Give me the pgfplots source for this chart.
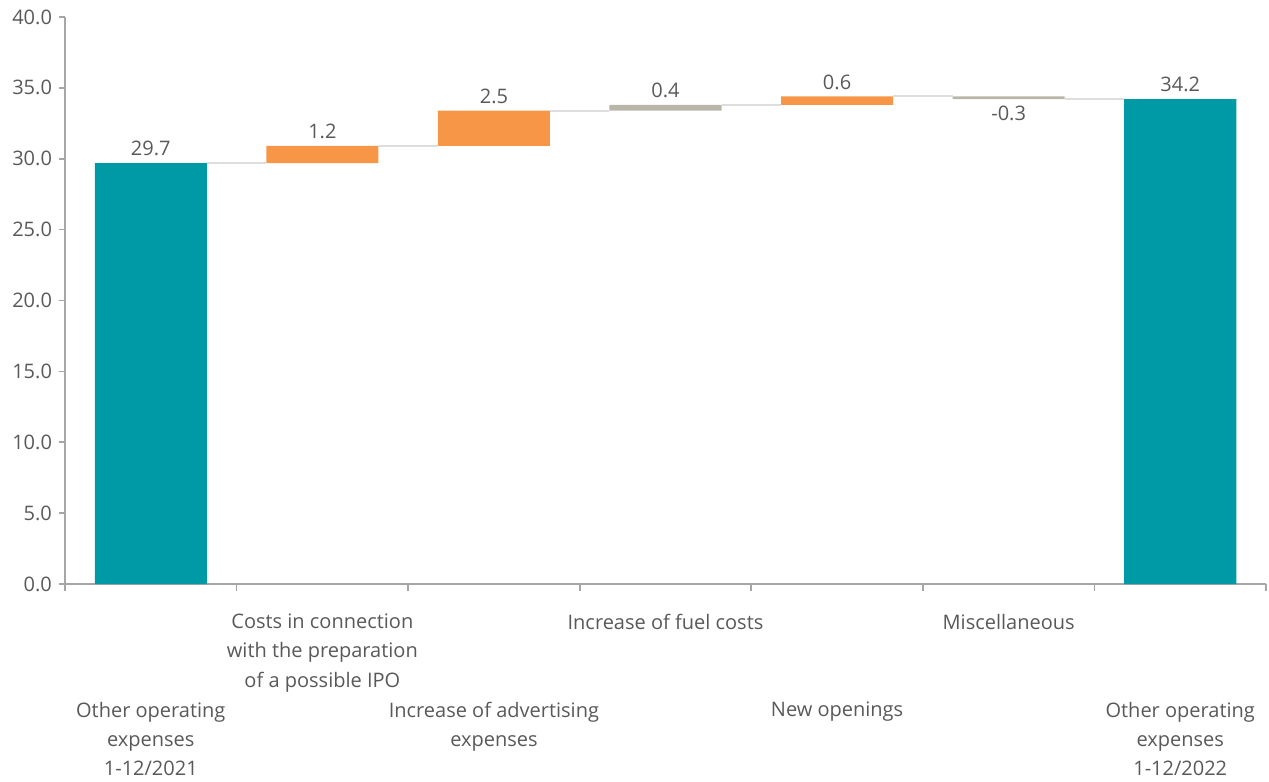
\documentclass[border=0pt]{standalone}
\usepackage{fontspec}
\setmainfont{Open Sans}
\usepackage{pgfplots}
\pgfplotsset{compat=1.18}
\definecolor{cTeal}{HTML}{0099A6}
\definecolor{cOrange}{HTML}{F79646}
\definecolor{cGray}{HTML}{B8B6A9}
\definecolor{cConn}{HTML}{DDDDDD}
\definecolor{cAxis}{HTML}{A6A6A6}
\definecolor{cText}{HTML}{595959}
\begin{document}
\begin{tikzpicture}
\pgfplotsset{
  common/.style={
    scale only axis, width=600.5pt, height=283.5pt,
    xmin=-0.5, xmax=6.5, ymin=0, ymax=40,
    clip=false,
  }
}
\begin{axis}[
  common, name=ax,
  ybar stacked, bar width=0.653,
  axis x line*=bottom, axis y line*=left,
  axis line style={cAxis, line width=0.9pt},
  ytick={0,5,...,40},
  yticklabel style={/pgf/number format/.cd, fixed, fixed zerofill, precision=1, assume math mode=true},
  tick align=outside, major tick length=3pt,
  tick style={cAxis, line width=0.8pt},
  major x tick style={draw=none},
  minor xtick={-0.5,0.5,...,6.5}, minor tick length=3.5pt,
  minor x tick style={cAxis, line width=0.8pt},
  xtick={1,3,5},
  xticklabels={{Costs in connection\\with the preparation\\of a possible IPO},{Increase of fuel costs},{Miscellaneous}},
  extra x ticks={0,2,4,6},
  extra x tick labels={{Other operating\\expenses\\1-12/2021},{Increase of advertising\\expenses},{New openings},{Other operating\\expenses\\1-12/2022}},
  extra x tick style={xticklabel style={yshift=-44pt}},
  ticklabel style={font=\fontsize{10}{14.6}\selectfont, text=cText},
  xticklabel style={align=center, yshift=-8.5pt},
]
\addplot[draw=none, fill=none] coordinates {(0,0) (1,29.7) (2,30.9) (3,33.4) (4,33.8) (5,34.2) (6,0)};
\addplot[draw=none, fill=cTeal] coordinates {(0,29.7) (1,0) (2,0) (3,0) (4,0) (5,0) (6,34.2)};
\addplot[draw=none, fill=cOrange] coordinates {(0,0) (1,1.2) (2,2.5) (3,0) (4,0.6) (5,0) (6,0)};
\addplot[draw=none, fill=cGray] coordinates {(0,0) (1,0) (2,0) (3,0.4) (4,0) (5,0.2) (6,0)};
\end{axis}
\begin{axis}[common, hide axis]
\addplot[cConn, line width=1pt, unbounded coords=jump] table[row sep=\\] {
x y\\
0.3265 29.7\\ 0.6735 29.7\\ nan nan\\
1.3265 30.9\\ 1.6735 30.9\\ nan nan\\
2.3265 33.4\\ 2.6735 33.4\\ nan nan\\
3.3265 33.8\\ 3.6735 33.8\\ nan nan\\
4.3265 34.4\\ 4.6735 34.4\\ nan nan\\
5.3265 34.2\\ 5.6735 34.2\\
};
\addplot[draw=none, mark=none, nodes near coords, point meta=explicit symbolic,
  nodes near coords style={anchor=south, font=\fontsize{10}{12}\selectfont, text=cText}]
  table[row sep=\\, meta=label] {
x y label\\
0 29.7 29.7\\
1 30.9 1.2\\
2 33.4 2.5\\
3 33.8 0.4\\
4 34.4 0.6\\
6 34.2 34.2\\
};
\addplot[draw=none, mark=none, nodes near coords, point meta=explicit symbolic,
  nodes near coords style={anchor=north, font=\fontsize{10}{12}\selectfont, text=cText}]
  table[row sep=\\, meta=label] {
x y label\\
5 34.2 -0.3\\
};
\end{axis}
\pgfresetboundingbox
\path (ax.south west) ++(-32.5pt,-98.5pt);
\path (ax.north east) ++(1.5pt,8.5pt);
\end{tikzpicture}
\end{document}
